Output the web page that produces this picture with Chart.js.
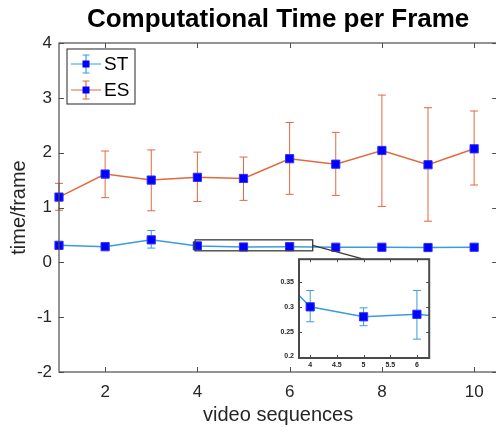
<!DOCTYPE html>
<html>
<head>
<meta charset="utf-8">
<script src="https://cdn.jsdelivr.net/npm/chart.js@4.4.0/dist/chart.umd.min.js"></script>
<style>
  html, body { margin: 0; padding: 0; background: #fff; overflow: hidden; }
  #wrap { position: relative; width: 496px; height: 427px; overflow: hidden; }
  #main { position: absolute; left: 0; top: 0; }
  #inset { position: absolute; left: 266px; top: 250px; }
</style>
</head>
<body>
<div id="wrap">
  <canvas id="main" width="504" height="427"></canvas>
  <canvas id="inset" width="170" height="125"></canvas>
</div>
<script>
// Mean time per frame with lower/upper error bounds, per video sequence.
const sequences = [1, 2, 3, 4, 5, 6, 7, 8, 9, 10];
const stMean = [0.31, 0.285, 0.41, 0.30, 0.28, 0.285, 0.275, 0.275, 0.27, 0.275];
const stLow  = [0.28, 0.26, 0.26, 0.27, 0.262, 0.235, 0.25, 0.25, 0.25, 0.25];
const stHigh = [0.34, 0.31, 0.58, 0.333, 0.298, 0.333, 0.30, 0.30, 0.29, 0.30];
const esMean = [1.19, 1.61, 1.50, 1.55, 1.53, 1.89, 1.79, 2.04, 1.78, 2.07];
const esLow  = [0.95, 1.18, 0.94, 1.11, 1.13, 1.24, 1.22, 1.02, 0.75, 1.41];
const esHigh = [1.44, 2.03, 2.05, 2.01, 1.92, 2.55, 2.37, 3.05, 2.82, 2.76];

const xTicks = [2, 4, 6, 8, 10];
const yTicks = [-2, -1, 0, 1, 2, 3, 4];
const insetXTicks = [4, 4.5, 5, 5.5, 6];
const insetYTicks = [0.2, 0.25, 0.3, 0.35];
// region of the main plot that the inset magnifies: x0, x1, y0, y1
const zoomBox = [3.95, 6.5, 0.21, 0.41];

const FONT = '"Liberation Sans", Arial, Helvetica, sans-serif';
const TEXT = '#262626';
const ST_COLOR = '#3c9cdb';
const ES_COLOR = '#e2693e';
const MARKER = '#0000ff';

function pts(values){
  return sequences.map((s, i) => ({ x: s, y: values[i] }));
}

function fixedTicks(list){
  return scale => { scale.ticks = list.map(v => ({ value: v })); };
}

const plainLabel = v => String(v);

function seriesStyle(color){
  return {
    borderColor: color, borderWidth: 1.5, tension: 0,
    pointStyle: 'rect', pointRadius: 5.8, pointHoverRadius: 5.8,
    pointBackgroundColor: MARKER, pointBorderColor: '#3030ff', pointBorderWidth: 1
  };
}

const whiteBg = {
  id: 'whiteBg',
  beforeDraw(chart){
    const { ctx, chartArea: a } = chart;
    ctx.save();
    ctx.fillStyle = '#fff';
    ctx.fillRect(a.left, a.top, a.right - a.left, a.bottom - a.top);
    ctx.restore();
  }
};

const errorBars = {
  id: 'errorBars',
  beforeDatasetsDraw(chart, args, opts){
    const { ctx, chartArea: a, scales: { x, y } } = chart;
    const m = opts.margin || 0;
    ctx.save();
    ctx.beginPath();
    ctx.rect(a.left - m, a.top, a.right - a.left + 2 * m, a.bottom - a.top);
    ctx.clip();
    chart.data.datasets.forEach(ds => {
      if(!ds.errLow) return;
      ctx.strokeStyle = ds.borderColor;
      ctx.lineWidth = 1;
      ds.data.forEach((p, i) => {
        const px = x.getPixelForValue(p.x);
        const lo = y.getPixelForValue(ds.errLow[i]);
        const hi = y.getPixelForValue(ds.errHigh[i]);
        ctx.beginPath();
        ctx.moveTo(px, lo); ctx.lineTo(px, hi);
        ctx.moveTo(px - opts.cap, lo); ctx.lineTo(px + opts.cap, lo);
        ctx.moveTo(px - opts.cap, hi); ctx.lineTo(px + opts.cap, hi);
        ctx.stroke();
      });
    });
    ctx.restore();
  }
};

// MATLAB-style box with inward ticks on all four sides
const frame = {
  id: 'frame',
  afterDraw(chart, args, opts){
    const { ctx, chartArea: a, scales: { x, y } } = chart;
    const len = opts.tickLen;
    ctx.save();
    ctx.strokeStyle = opts.color;
    ctx.lineWidth = 1;
    ctx.beginPath();
    x.ticks.forEach(t => {
      const px = Math.round(x.getPixelForValue(t.value)) + 0.5;
      ctx.moveTo(px, a.bottom); ctx.lineTo(px, a.bottom - len);
      ctx.moveTo(px, a.top); ctx.lineTo(px, a.top + len);
    });
    y.ticks.forEach(t => {
      const py = Math.round(y.getPixelForValue(t.value)) + 0.5;
      ctx.moveTo(a.left, py); ctx.lineTo(a.left + len, py);
      ctx.moveTo(a.right, py); ctx.lineTo(a.right - len, py);
    });
    ctx.stroke();
    ctx.lineWidth = opts.width;
    ctx.strokeRect(a.left, a.top, a.right - a.left, a.bottom - a.top);
    ctx.restore();
  }
};

// zoom rectangle on the main plot and the line leading to the inset
const zoomMarks = {
  id: 'zoomMarks',
  afterDatasetsDraw(chart){
    const { ctx, scales: { x, y } } = chart;
    const x0 = x.getPixelForValue(zoomBox[0]), x1 = x.getPixelForValue(zoomBox[1]);
    const y0 = y.getPixelForValue(zoomBox[3]), y1 = y.getPixelForValue(zoomBox[2]);
    ctx.save();
    ctx.strokeStyle = '#3a3a3a';
    ctx.lineWidth = 1.3;
    ctx.strokeRect(x0, y0, x1 - x0, y1 - y0);
    const ins = Chart.getChart('inset');
    if(ins){
      const ex = ins.canvas.offsetLeft + ins.scales.x.getPixelForValue(5);
      const ey = ins.canvas.offsetTop + ins.chartArea.top;
      ctx.beginPath();
      ctx.moveTo(x1, (y0 + y1) / 2);
      ctx.lineTo(ex, ey);
      ctx.stroke();
    }
    ctx.restore();
  }
};

const legendBox = {
  id: 'legendBox',
  afterDraw(chart){
    const { ctx } = chart;
    const bx = 67, by = 49, bw = 68, bh = 55;
    ctx.save();
    ctx.fillStyle = '#fff';
    ctx.fillRect(bx, by, bw, bh);
    ctx.strokeStyle = '#4a4a4a';
    ctx.lineWidth = 1.2;
    ctx.strokeRect(bx, by, bw, bh);
    chart.data.datasets.forEach((ds, i) => {
      const cy = 64 + i * 26;
      const cx = 86;
      ctx.strokeStyle = ds.borderColor;
      ctx.lineWidth = 1.2;
      ctx.beginPath();
      ctx.moveTo(71, cy); ctx.lineTo(101, cy);
      ctx.moveTo(cx, cy - 9); ctx.lineTo(cx, cy + 9);
      ctx.moveTo(cx - 3.5, cy - 9); ctx.lineTo(cx + 3.5, cy - 9);
      ctx.moveTo(cx - 3.5, cy + 9); ctx.lineTo(cx + 3.5, cy + 9);
      ctx.stroke();
      ctx.fillStyle = MARKER;
      ctx.fillRect(cx - 3.5, cy - 3.5, 7, 7);
      ctx.fillStyle = '#000';
      ctx.font = '19px ' + FONT;
      ctx.textBaseline = 'middle';
      ctx.fillText(ds.label, 104, cy + 1);
    });
    ctx.restore();
  }
};

const insetChart = new Chart(document.getElementById('inset'), {
  type: 'line',
  data: { datasets: [
    Object.assign({ label: 'ST', data: pts(stMean), errLow: stLow, errHigh: stHigh }, seriesStyle(ST_COLOR))
  ]},
  options: {
    responsive: false, animation: false, devicePixelRatio: 1,
    layout: { padding: { left: 0, right: 5, top: 9, bottom: 0 } },
    plugins: {
      legend: { display: false }, tooltip: { enabled: false },
      errorBars: { cap: 4, margin: 0 },
      frame: { color: '#4a4a4a', width: 2, tickLen: 3 }
    },
    scales: {
      x: {
        type: 'linear', min: 3.79, max: 6.23,
        afterBuildTicks: fixedTicks(insetXTicks),
        afterFit: s => { s.height = 17; },
        grid: { display: false, drawTicks: false }, border: { display: false },
        ticks: { font: { family: FONT, size: 7, weight: 'bold' }, color: TEXT, padding: 3, maxRotation: 0, callback: plainLabel }
      },
      y: {
        type: 'linear', min: 0.197, max: 0.396,
        afterBuildTicks: fixedTicks(insetYTicks),
        afterFit: s => { s.width = 33; },
        grid: { display: false, drawTicks: false }, border: { display: false },
        ticks: { font: { family: FONT, size: 7, weight: 'bold' }, color: TEXT, padding: 5, callback: plainLabel }
      }
    }
  },
  plugins: [whiteBg, errorBars, frame]
});

const mainChart = new Chart(document.getElementById('main'), {
  type: 'line',
  data: { datasets: [
    Object.assign({ label: 'ST', data: pts(stMean), errLow: stLow, errHigh: stHigh, clip: 10 }, seriesStyle(ST_COLOR)),
    Object.assign({ label: 'ES', data: pts(esMean), errLow: esLow, errHigh: esHigh, clip: 10 }, seriesStyle(ES_COLOR))
  ]},
  options: {
    responsive: false, animation: false, devicePixelRatio: 1,
    layout: { padding: { left: 0, right: 4.5, top: 0, bottom: 0 } },
    plugins: {
      legend: { display: false }, tooltip: { enabled: false },
      title: {
        display: true, fullSize: false, text: 'Computational Time per Frame', color: '#000',
        font: { family: FONT, size: 26, weight: 'bold' }, padding: { top: 4, bottom: 7.8 }
      },
      errorBars: { cap: 4, margin: 8 },
      frame: { color: '#4d4d4d', width: 1.2, tickLen: 5 }
    },
    scales: {
      x: {
        type: 'linear', min: 1, max: 10.5,
        afterBuildTicks: fixedTicks(xTicks),
        afterFit: s => { s.height = 55; },
        grid: { display: false, drawTicks: false }, border: { display: false },
        ticks: { font: { family: FONT, size: 17 }, color: TEXT, padding: 10, maxRotation: 0 },
        title: { display: true, text: 'video sequences', color: TEXT, font: { family: FONT, size: 20 }, padding: { top: 0, bottom: 0 } }
      },
      y: {
        type: 'linear', min: -2, max: 4,
        afterBuildTicks: fixedTicks(yTicks),
        afterFit: s => { s.width = 59; },
        grid: { display: false, drawTicks: false }, border: { display: false },
        ticks: { font: { family: FONT, size: 17 }, color: TEXT, padding: 7 },
        title: { display: true, text: 'time/frame', color: TEXT, font: { family: FONT, size: 20 }, padding: { top: 7, bottom: 0 } }
      }
    }
  },
  plugins: [whiteBg, errorBars, zoomMarks, frame, legendBox]
});
</script>
</body>
</html>
